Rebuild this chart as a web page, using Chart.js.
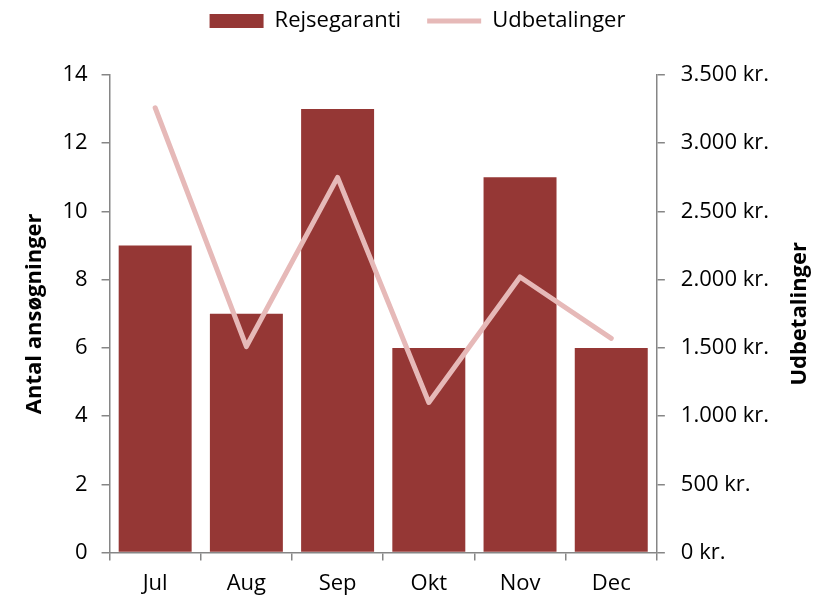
<!DOCTYPE html>
<html>
<head>
<meta charset="utf-8">
<script src="https://cdn.jsdelivr.net/npm/chart.js@4/dist/chart.umd.min.js"></script>
<style>
  html, body { margin: 0; padding: 0; background: #fff; }
  #wrap { width: 819px; height: 601px; }
</style>
</head>
<body>
<div id="wrap"><canvas id="graf" width="819" height="601"></canvas></div>
<script>
const maaneder = ["Jul", "Aug", "Sep", "Okt", "Nov", "Dec"];
const ansoegninger = [9, 7, 13, 6, 11, 6];
const udbetalinger = [3260, 1510, 2750, 1100, 2020, 1570];

const akseFarve = "#868686";
const skrift = "'Open Sans', sans-serif";
const str = 22;

Chart.defaults.font.family = skrift;
Chart.defaults.font.size = str;
Chart.defaults.color = "#000";

const kr = v => v.toLocaleString("da-DK").replace(/,/g, ".") + " kr.";

// højre aksetitel læses nedefra og op, som i Excel
const hoejreTitel = {
  id: "hoejreTitel",
  afterDraw(chart) {
    const { ctx, chartArea } = chart;
    ctx.save();
    ctx.translate(800, (chartArea.top + chartArea.bottom) / 2);
    ctx.rotate(-Math.PI / 2);
    ctx.font = `bold ${str}px ${skrift}`;
    ctx.fillStyle = "#000";
    ctx.textAlign = "center";
    ctx.textBaseline = "middle";
    ctx.fillText("Udbetalinger", 0, 0);
    ctx.restore();
  },
};

// mere luft under legenden og legenden lidt mod højre
const legendeLuft = {
  id: "legendeLuft",
  beforeInit(chart) {
    const fit = chart.legend.fit;
    chart.legend.fit = function () {
      fit.bind(chart.legend)();
      this.height += 33;
    };
  },
  afterLayout(chart) {
    chart.legend.left += 14;
    chart.legend.right += 14;
  },
};

new Chart(document.getElementById("graf"), {
  data: {
    labels: maaneder,
    datasets: [
      {
        type: "line",
        label: "Udbetalinger",
        data: udbetalinger,
        yAxisID: "y2",
        borderColor: "#e6b9b8",
        backgroundColor: "#e6b9b8",
        borderWidth: 5,
        pointRadius: 0,
        borderCapStyle: "round",
        borderJoinStyle: "round",
        tension: 0,
        order: 0,
      },
      {
        type: "bar",
        label: "Rejsegaranti",
        data: ansoegninger,
        yAxisID: "y",
        backgroundColor: "#953735",
        barPercentage: 0.8,
        categoryPercentage: 1,
        order: 1,
      },
    ],
  },
  plugins: [hoejreTitel, legendeLuft],
  options: {
    responsive: false,
    animation: false,
    layout: { padding: { top: -16, left: 22, right: 34, bottom: -6 } },
    plugins: {
      tooltip: { enabled: false },
      legend: {
        position: "top",
        labels: {
          usePointStyle: true,
          pointStyleWidth: 54,
          boxHeight: 14,
          padding: 26,
          font: { size: str },
          generateLabels: chart => {
            const items = Chart.defaults.plugins.legend.labels.generateLabels(chart);
            items.forEach(it => {
              if (it.text === "Rejsegaranti") {
                it.pointStyle = "rect";
                it.lineWidth = 0;
              } else {
                it.pointStyle = "line";
                it.lineWidth = 5;
                it.strokeStyle = "#e6b9b8";
              }
            });
            return items.sort((a, b) => (a.text === "Rejsegaranti" ? -1 : 1));
          },
        },
      },
    },
    scales: {
      x: {
        offset: true,
        border: { color: akseFarve, width: 1.5 },
        grid: { display: true, drawOnChartArea: false, offset: true, color: akseFarve, tickLength: 8, lineWidth: 1.5 },
        ticks: { padding: 10, font: { size: str } },
      },
      y: {
        position: "left",
        min: 0,
        max: 14,
        border: { color: akseFarve, width: 1.5 },
        grid: { display: true, drawOnChartArea: false, color: akseFarve, tickLength: 8, lineWidth: 1.5 },
        ticks: { stepSize: 2, padding: 14, font: { size: str } },
        title: { display: true, text: "Antal ansøgninger", font: { size: str, weight: "bold" }, padding: { top: 0, bottom: 0 } },
      },
      y2: {
        position: "right",
        min: 0,
        max: 3500,
        border: { color: akseFarve, width: 1.5 },
        grid: { display: true, drawOnChartArea: false, color: akseFarve, tickLength: 8, lineWidth: 1.5 },
        ticks: { stepSize: 500, padding: 16, font: { size: str }, callback: v => kr(v) },
      },
    },
  },
});
</script>
</body>
</html>
